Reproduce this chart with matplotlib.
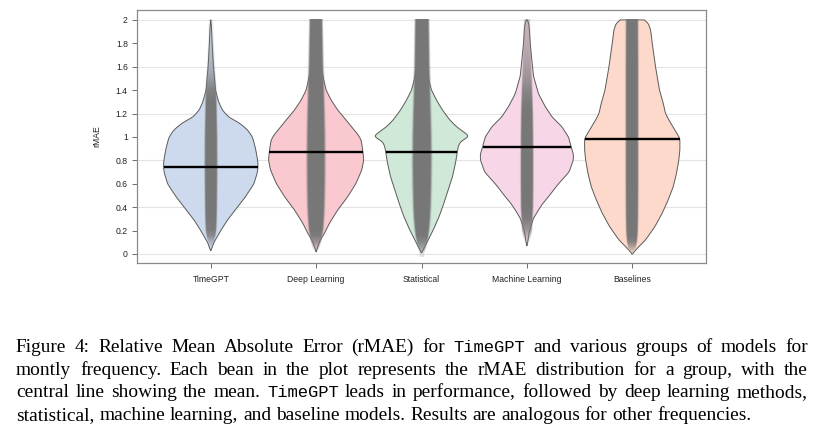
import numpy as np
import matplotlib
matplotlib.use("Agg")
import matplotlib.pyplot as plt

# ---------------- data ----------------
GROUPS = ["TimeGPT", "Deep Learning", "Statistical", "Machine Learning", "Baselines"]
MEANS = [0.746, 0.869, 0.875, 0.917, 0.986]
FILL_COLORS = ["#cddaee", "#f9c9cf", "#cfe8d7", "#f7d6e8", "#fcd9ca"]

# bean outlines: rMAE level and half width of the bean (x units) at that level
TIMEGPT_Y = [0.03, 0.06, 0.09, 0.15, 0.2, 0.29, 0.4, 0.49, 0.6, 0.7, 0.75, 0.8, 0.9, 0.97,
             1.0, 1.06, 1.12, 1.17, 1.23, 1.3, 1.4, 1.6, 1.8, 1.95, 2.0]
TIMEGPT_HW = [0.0, 0.016, 0.025, 0.063, 0.095, 0.158, 0.253, 0.33, 0.41, 0.443, 0.449, 0.445,
              0.425, 0.405, 0.395, 0.35, 0.27, 0.17, 0.11, 0.075, 0.045, 0.025, 0.013, 0.006, 0.0]

DEEP_Y = [0.02, 0.034, 0.105, 0.177, 0.262, 0.376, 0.49, 0.604, 0.718, 0.803, 0.889, 0.974,
          1.017, 1.074, 1.145, 1.23, 1.316, 1.4, 1.487, 1.6, 1.8, 2.0]
DEEP_HW = [0.0, 0.006, 0.032, 0.079, 0.126, 0.205, 0.30, 0.379, 0.433, 0.452, 0.442, 0.427,
           0.40, 0.348, 0.284, 0.205, 0.142, 0.095, 0.073, 0.047, 0.022, 0.01]

STAT_Y = [0.011, 0.063, 0.12, 0.205, 0.319, 0.433, 0.547, 0.661, 0.775, 0.875, 0.917, 0.96,
          0.989, 1.009, 1.046, 1.088, 1.145, 1.23, 1.316, 1.4, 1.487, 1.6, 1.8, 2.0]
STAT_HW = [0.0, 0.032, 0.063, 0.111, 0.167, 0.212, 0.253, 0.294, 0.322, 0.341, 0.348, 0.37,
           0.425, 0.452, 0.395, 0.332, 0.269, 0.199, 0.142, 0.095, 0.07, 0.047, 0.022, 0.006]

ML_Y = [0.07, 0.1, 0.15, 0.2, 0.26, 0.3, 0.376, 0.43, 0.49, 0.6, 0.7, 0.8, 0.85, 0.917, 1.0,
        1.09, 1.17, 1.26, 1.37, 1.52, 1.66, 1.8, 1.94, 1.99, 2.0]
ML_HW = [0.0, 0.008, 0.016, 0.025, 0.047, 0.06, 0.11, 0.15, 0.205, 0.30, 0.40, 0.44, 0.442,
         0.42, 0.395, 0.33, 0.24, 0.174, 0.11, 0.063, 0.047, 0.032, 0.022, 0.012, 0.0]

BASE_Y = [0.0, 0.048, 0.12, 0.234, 0.348, 0.462, 0.575, 0.689, 0.803, 0.889, 0.986, 1.017,
          1.074, 1.145, 1.2, 1.288, 1.4, 1.6, 1.8, 1.915, 1.972, 2.0]
BASE_HW = [0.0, 0.047, 0.126, 0.215, 0.284, 0.341, 0.389, 0.42, 0.442, 0.452, 0.452, 0.433,
           0.395, 0.348, 0.316, 0.294, 0.259, 0.221, 0.19, 0.174, 0.152, 0.11]

# grey bands of individual points: half width and darkness by rMAE level
BAND_Y = [0.0, 0.05, 0.1, 0.15, 0.2, 0.3, 0.4, 0.6, 0.8, 1.0, 1.2, 1.3, 1.4, 1.5, 1.6, 1.8, 2.0]
TIMEGPT_BAND_HW = [0.0, 0.01, 0.025, 0.04, 0.048, 0.052, 0.054, 0.056, 0.057, 0.056, 0.052,
                   0.05, 0.046, 0.04, 0.033, 0.025, 0.02]
TIMEGPT_BAND_A = [0.0, 0.1, 0.4, 0.8, 0.95, 1, 1, 1, 1, 1, 1, 1, 0.9, 0.6, 0.4, 0.2, 0.1]
DEEP_BAND_HW = [0.0, 0.03, 0.045, 0.055, 0.065, 0.073, 0.078, 0.082, 0.083, 0.082, 0.078,
                0.075, 0.072, 0.07, 0.066, 0.062, 0.058]
DEEP_BAND_A = [0.0, 0.3, 0.7, 0.95, 1, 1, 1, 1, 1, 1, 1, 1, 1, 1, 1, 1, 1]
STAT_BAND_HW = [0.02, 0.035, 0.048, 0.058, 0.065, 0.075, 0.08, 0.085, 0.087, 0.085, 0.08,
                0.077, 0.074, 0.072, 0.069, 0.066, 0.063]
STAT_BAND_A = [0.2, 0.6, 0.85, 1, 1, 1, 1, 1, 1, 1, 1, 1, 1, 1, 1, 1, 1]
ML_BAND_HW = [0.0, 0.0, 0.02, 0.035, 0.045, 0.05, 0.055, 0.057, 0.057, 0.056, 0.053, 0.05,
              0.047, 0.043, 0.038, 0.032, 0.027]
ML_BAND_A = [0.0, 0.0, 0.15, 0.4, 0.7, 0.95, 1, 1, 1, 1, 1, 0.95, 0.85, 0.7, 0.6, 0.45, 0.35]
BASE_BAND_HW = [0.0, 0.035, 0.045, 0.05, 0.053, 0.055, 0.056, 0.057, 0.057, 0.057, 0.057,
                0.057, 0.057, 0.057, 0.057, 0.056, 0.055]
BASE_BAND_A = [0.05, 0.5, 0.9, 1, 1, 1, 1, 1, 1, 1, 1, 1, 1, 1, 1, 1, 1]

Y_TICKS = [0, 0.2, 0.4, 0.6, 0.8, 1.0, 1.2, 1.4, 1.6, 1.8, 2.0]
Y_TICK_LABELS = ["0", "0.2", "0.4", "0.6", "0.8", "1", "1.2", "1.4", "1.6", "1.8", "2"]
GRID_LEVELS = [0, 0.4, 0.8, 1.2, 1.6, 2.0]
Y_LABEL = "rMAE"

CAPTION_LINES = [
    [("Figure 4: Relative Mean Absolute Error (rMAE) for", "s"), ("TimeGPT", "m"),
     ("and various groups of models for", "s")],
    [("montly frequency.  Each bean in the plot represents the rMAE distribution for a group, with the", "s")],
    [("central line showing the mean.", "s"), ("TimeGPT", "m"),
     ("leads in performance, followed by deep learning methods,", "s")],
    [("statistical, machine learning, and baseline models. Results are analogous for other frequencies.", "s")],
]
CAPTION_JUSTIFY = [True, True, True, False]

OUTLINES = [(TIMEGPT_Y, TIMEGPT_HW), (DEEP_Y, DEEP_HW), (STAT_Y, STAT_HW), (ML_Y, ML_HW),
            (BASE_Y, BASE_HW)]
BANDS = [(TIMEGPT_BAND_HW, TIMEGPT_BAND_A), (DEEP_BAND_HW, DEEP_BAND_A),
         (STAT_BAND_HW, STAT_BAND_A), (ML_BAND_HW, ML_BAND_A), (BASE_BAND_HW, BASE_BAND_A)]


def smooth_profile(ys, hws, n=700, sigma=0.012):
    yf = np.linspace(min(ys), max(ys), n)
    wf = np.interp(yf, ys, hws)
    dy = yf[1] - yf[0]
    k = max(1, int(3 * sigma / dy))
    kern = np.exp(-0.5 * (np.arange(-k, k + 1) * dy / sigma) ** 2)
    kern /= kern.sum()
    ws = np.convolve(np.pad(wf, k, mode="edge"), kern, mode="valid")
    return yf, ws


W, H = 823, 433
fig = plt.figure(figsize=(W / 100, H / 100), dpi=100)
ax = fig.add_axes([137 / W, 1 - 263 / H, (706 - 137) / W, (263 - 10) / H])

for v in GRID_LEVELS:
    ax.axhline(v, color="#e4e4e4", lw=0.8, zorder=0)

for i, name in enumerate(GROUPS):
    c = i + 1
    ys, hws = OUTLINES[i]
    yf, ws = smooth_profile(ys, hws)
    xs = np.concatenate([c - ws, (c + ws)[::-1]])
    yy = np.concatenate([yf, yf[::-1]])
    ax.fill(xs, yy, facecolor=FILL_COLORS[i], edgecolor="#5a5a5a", lw=0.7, zorder=2)

    # grey band of points
    bhw, ba = BANDS[i]
    yb = np.linspace(-0.03, 2.0, 800)
    xb = np.linspace(-0.16, 0.16, 200)
    hwb = np.interp(yb, BAND_Y, bhw)
    ab = np.interp(yb, BAND_Y, ba)
    T = np.abs(xb)[None, :] / np.maximum(hwb[:, None], 1e-4)
    A = ab[:, None] * np.clip((1.22 - T) / 0.3, 0, 1) ** 1.5
    rgba = np.zeros((len(yb), len(xb), 4))
    rgba[..., :3] = 0.47
    rgba[..., 3] = A
    ax.imshow(rgba, extent=(c - 0.16, c + 0.16, yb[0], yb[-1]), origin="lower",
              aspect="auto", interpolation="bilinear", zorder=3)

    m = MEANS[i]
    hm = np.interp(m, yf, ws)
    ax.plot([c - hm, c + hm], [m, m], color="black", lw=1.7, zorder=5,
            solid_capstyle="butt")

ax.set_xlim(0.3, 5.7)
ax.set_ylim(-0.077, 2.085)
ax.set_xticks(range(1, len(GROUPS) + 1))
ax.set_xticklabels(GROUPS, fontsize=6.2, family="Liberation Sans", color="#222222")
ax.set_yticks(Y_TICKS)
ax.set_yticklabels(Y_TICK_LABELS, fontsize=6.2, family="Liberation Sans", color="#222222")
ax.tick_params(axis="both", direction="out", length=3.6, width=0.6, color="#555555")
ax.tick_params(axis="y", pad=3)
ax.tick_params(axis="x", pad=5)
for s in ax.spines.values():
    s.set_color("#8a8a8a")
    s.set_linewidth(0.9)
ax.set_ylabel(Y_LABEL, fontsize=6.2, family="Liberation Sans", color="#222222")
ax.yaxis.set_label_coords(-0.063, 0.5)

# ---------------- caption ----------------
CAP_SIZE = 13.95
MONO_SIZE = 12.3
FAM = {"s": "Liberation Serif", "m": "Liberation Mono"}
SIZE = {"s": CAP_SIZE, "m": MONO_SIZE}
renderer = fig.canvas.get_renderer()
baselines = [352, 374.6, 397.2, 419.8]
x_left, x_right = 16, 808


def text_width(s, fam):
    t = fig.text(0, 0, s, fontsize=SIZE[fam], family=FAM[fam])
    w = t.get_window_extent(renderer).width
    t.remove()
    return w

space_w = text_width("x x", "s") - text_width("xx", "s")

for li, line in enumerate(CAPTION_LINES):
    tokens = []
    for seg, fam in line:
        for w in seg.split(" "):
            if w:
                tokens.append((w, fam))
    objs = []
    widths = []
    for w, fam in tokens:
        t = fig.text(0, 1 - baselines[li] / H, w, fontsize=SIZE[fam], family=FAM[fam],
                     va="baseline", ha="left", color="black")
        objs.append(t)
        widths.append(t.get_window_extent(renderer).width)
    if CAPTION_JUSTIFY[li] and len(tokens) > 1:
        gap = (x_right - x_left - sum(widths)) / (len(tokens) - 1)
    else:
        gap = space_w
    x = x_left
    for t, w in zip(objs, widths):
        t.set_x(x / W)
        x += w + gap

fig.savefig("out.png", dpi=100)
